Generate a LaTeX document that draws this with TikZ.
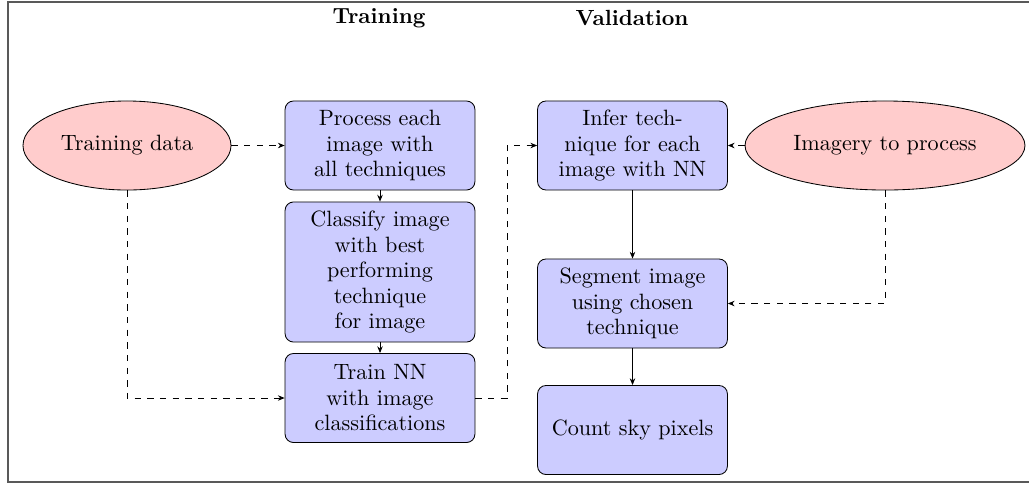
\documentclass[tikz,border=0pt]{standalone}
\usetikzlibrary{shapes.geometric,arrows.meta}

\tikzset{
  every node/.style={font=\fontsize{10.5pt}{12.1pt}\selectfont},
  source/.style={ellipse, draw=black, fill=red!20, line width=0.4pt,
    inner sep=0pt, minimum height=42.2pt, align=center},
  stepbox/.style={rectangle, rounded corners=4pt, draw=black, fill=blue!20,
    line width=0.4pt, inner sep=0pt, minimum width=90pt, minimum height=42.2pt,
    align=center},
  title/.style={font=\fontsize{10.4pt}{12pt}\selectfont\bfseries},
  flow/.style={-{Stealth[length=3.2pt,width=2.6pt]}, line width=0.4pt},
  feed/.style={flow, dashed},
}

\begin{document}
\begin{tikzpicture}[x=0.474pt, y=-0.474pt]
  \useasboundingbox (0,0) rectangle (1029,484);
  \clip (0,0) rectangle (1029,484);

  % outer frame
  \draw[black!65, line width=0.8pt] (8,2) rectangle (1045,482);

  % column headings
  \node[title] (htrain) at (379,18) {Training};
  \node[title] (hval) at (632,18) {Validation};

  % training column
  \node[source, minimum width=98.6pt] (tdata) at (127,145.5) {Training data};
  \node[stepbox] (process) at (380,145.5) {Process each\\image with\\all techniques};
  \node[stepbox, minimum height=66.4pt] (classify) at (380,272) {Classify image\\with best\\performing\\technique\\for image};
  \node[stepbox] (trainnn) at (380,398) {Train NN\\with image\\classifications};

  % validation column
  \node[stepbox] (infer) at (632.5,145.5) {Infer tech-\\nique for each\\image with NN};
  \node[source, minimum width=132.7pt] (imagery) at (885,145.5) {Imagery to process};
  \node[stepbox] (segment) at (632.5,303.5) {Segment image\\using chosen\\technique};
  \node[stepbox] (count) at (632.5,430) {Count sky pixels};

  \coordinate (bend) at (507,145.5);

  % training flow
  \draw[feed] (tdata.east) -- (process.west);
  \draw[flow] (process.south) -- (classify.north);
  \draw[flow] (classify.south) -- (trainnn.north);
  \draw[feed] (tdata.south) |- (trainnn.west);

  % hand-over to validation
  \draw[feed] (trainnn.east) -| (bend) -- (infer.west);

  % validation flow
  \draw[feed] (imagery.west) -- (infer.east);
  \draw[flow] (infer.south) -- (segment.north);
  \draw[feed] (imagery.south) |- (segment.east);
  \draw[flow] (segment.south) -- (count.north);
\end{tikzpicture}
\end{document}
